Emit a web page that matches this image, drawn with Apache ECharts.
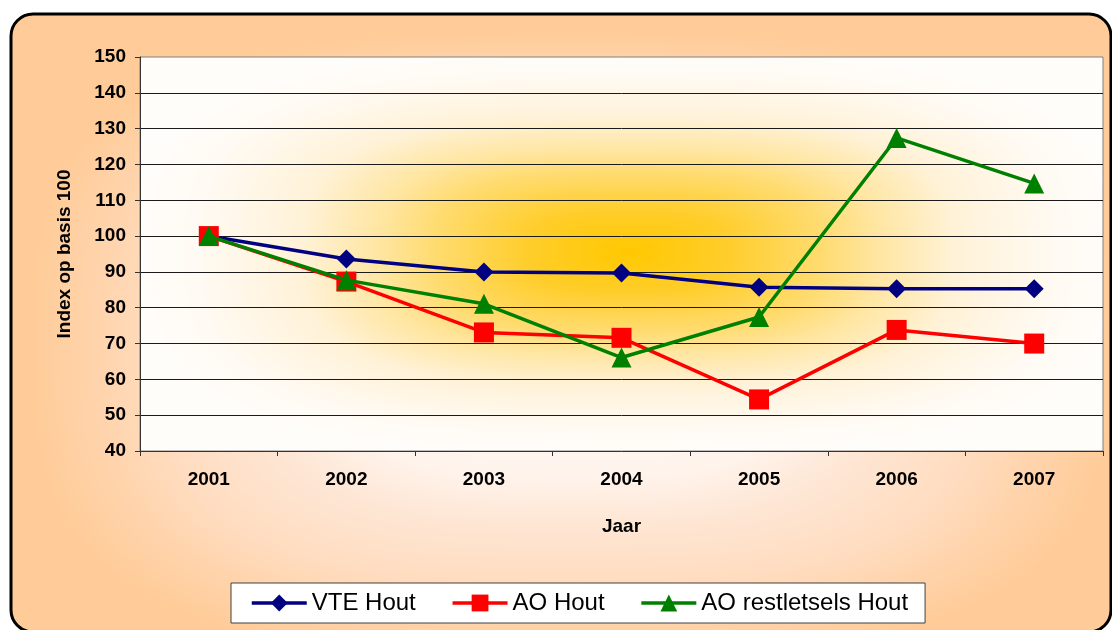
<!DOCTYPE html>
<html>
<head>
<meta charset="utf-8">
<script src="https://cdn.jsdelivr.net/npm/echarts@6/dist/echarts.min.js"></script>
<style>
  html, body { margin: 0; padding: 0; background: #ffffff; }
  #chart { width: 1112px; height: 630px; }
</style>
</head>
<body>
<div id="chart"></div>
<script>
// ---- data ----
const years = ['2001', '2002', '2003', '2004', '2005', '2006', '2007'];
const vteHout = [100, 93.6, 90.0, 89.7, 85.7, 85.3, 85.3];
const aoHout = [100, 87.3, 73.1, 71.6, 54.4, 73.8, 70.0];
const aoRestHout = [100, 87.7, 81.1, 66.1, 77.4, 127.4, 114.7];
const seriesNames = ['VTE Hout', 'AO Hout', 'AO restletsels Hout'];
const yTicks = { min: 40, max: 150, step: 10 };
const yTitle = 'Index op basis 100';
const xTitle = 'Jaar';

// ---- layout ----
const W = 1112, H = 630;
const grid = { left: 140, top: 57, right: 9, bottom: 179 };
const plotW = W - grid.left - grid.right;
const plotH = H - grid.top - grid.bottom;
const FONT = "'Liberation Sans', Arial, Helvetica, sans-serif";

function hexToRgb(h) {
  return [parseInt(h.slice(1, 3), 16), parseInt(h.slice(3, 5), 16), parseInt(h.slice(5, 7), 16)];
}
// "from centre" style gradient: superellipse distance, piecewise colour stops
function centreGradientCanvas(w, h, cx, cy, hx, hy, p, stops) {
  const c = document.createElement('canvas');
  c.width = w; c.height = h;
  const ctx = c.getContext('2d');
  const img = ctx.createImageData(w, h);
  const st = stops.map(s => [s[0], hexToRgb(s[1])]);
  for (let y = 0; y < h; y++) {
    const ny = Math.abs(y + 0.5 - cy) / hy;
    for (let x = 0; x < w; x++) {
      const nx = Math.abs(x + 0.5 - cx) / hx;
      const d = Math.pow(Math.pow(nx, p) + Math.pow(ny, p), 1 / p);
      let col = st[st.length - 1][1];
      for (let k = 1; k < st.length; k++) {
        if (d <= st[k][0]) {
          const t = (d - st[k - 1][0]) / (st[k][0] - st[k - 1][0]);
          const a = st[k - 1][1], b = st[k][1];
          col = [a[0] + (b[0] - a[0]) * t, a[1] + (b[1] - a[1]) * t, a[2] + (b[2] - a[2]) * t];
          break;
        }
      }
      const i = (y * w + x) * 4;
      img.data[i] = col[0]; img.data[i + 1] = col[1]; img.data[i + 2] = col[2]; img.data[i + 3] = 255;
    }
  }
  ctx.putImageData(img, 0, 0);
  return c;
}

const outer = { x: 11, y: 14, w: 1100, h: 618, r: 22 };
const outerCanvas = centreGradientCanvas(outer.w, outer.h, 560, 330, 550, 318, 3, [
  [0, '#FFFFFF'], [0.42, '#FFF3EB'], [0.55, '#FEE7D6'], [0.75, '#FFDCBF'], [0.87, '#FFD3AA'], [0.98, '#FFCC99'], [1, '#FFCC99']
]);
const plotCanvas = centreGradientCanvas(plotW, plotH, 488, 195, 490, 200, 3, [
  [0, '#FFC800'], [0.2, '#FFCD2A'], [0.4, '#FFDC72'], [0.5, '#FFE59E'], [0.67, '#FFF2D8'], [0.88, '#FFFAF3'], [1, '#FFFDFA']
]);

const chart = echarts.init(document.getElementById('chart'), null, { renderer: 'canvas' });

const colors = ['#000080', '#FF0000', '#008000'];
const symbols = [['diamond', [19, 19]], ['rect', [20, 20]], ['triangle', [20, 20]]];
const dataSets = [vteHout, aoHout, aoRestHout];

chart.setOption({
  animation: false,
  textStyle: { fontFamily: FONT },
  graphic: [
    {
      type: 'rect', x: outer.x, y: outer.y, z: -20, silent: true,
      shape: { x: 0, y: 0, width: outer.w, height: outer.h, r: outer.r },
      style: { fill: { image: outerCanvas, repeat: 'no-repeat' } }
    },
    {
      type: 'rect', x: grid.left, y: grid.top, z: -15, silent: true,
      shape: { x: 0, y: 0, width: plotW, height: plotH },
      style: { fill: { image: plotCanvas, repeat: 'no-repeat' } }
    },
    {
      type: 'rect', x: outer.x, y: outer.y, z: 100, silent: true,
      shape: { x: 0, y: 0, width: outer.w, height: outer.h, r: outer.r },
      style: { fill: null, stroke: '#000000', lineWidth: 3 }
    }
  ],
  grid: {
    left: grid.left, top: grid.top, right: grid.right, bottom: grid.bottom,
    show: true, backgroundColor: 'transparent', borderColor: '#808080', borderWidth: 1,
    containLabel: false
  },
  legend: {
    left: 231, top: 583,
    itemWidth: 55, itemHeight: 21, itemGap: 35,
    padding: [8, 17, 8, 19],
    backgroundColor: '#FFFFFF', borderColor: '#404040', borderWidth: 1, borderRadius: 0,
    lineStyle: { width: 3.5 },
    textStyle: { fontFamily: FONT, fontSize: 24, color: '#000000' },
    data: seriesNames
  },
  xAxis: {
    type: 'category', data: years, boundaryGap: true,
    name: xTitle, nameLocation: 'middle', nameGap: 66,
    nameTextStyle: { fontFamily: FONT, fontSize: 19, fontWeight: 'bold', color: '#000' },
    axisLine: { show: true, lineStyle: { color: '#333333', width: 1 } },
    axisTick: { show: true, inside: false, length: 5, interval: 0, lineStyle: { color: '#333333' } },
    axisLabel: { margin: 19, fontFamily: FONT, fontSize: 19, fontWeight: 'bold', color: '#000', interval: 0 },
    splitLine: { show: false }
  },
  yAxis: {
    type: 'value', min: yTicks.min, max: yTicks.max, interval: yTicks.step,
    name: yTitle, nameLocation: 'middle', nameGap: 66, nameRotate: 90,
    nameTextStyle: { fontFamily: FONT, fontSize: 19, fontWeight: 'bold', color: '#000' },
    axisLine: { show: true, lineStyle: { color: '#333333', width: 1 } },
    axisTick: { show: true, inside: false, length: 5, lineStyle: { color: '#333333' } },
    axisLabel: { margin: 14, fontFamily: FONT, fontSize: 19, fontWeight: 'bold', color: '#000' },
    splitLine: { show: true, showMinLine: false, showMaxLine: false, lineStyle: { color: '#1a1a1a', width: 1 } }
  },
  series: seriesNames.map((name, i) => ({
    name: name,
    type: 'line',
    data: dataSets[i],
    symbol: symbols[i][0],
    symbolSize: symbols[i][1],
    showAllSymbol: true,
    lineStyle: { color: colors[i], width: 3.5 },
    itemStyle: { color: colors[i], borderWidth: 0 },
    emphasis: { disabled: true },
    z: 2 + i
  }))
});
</script>
</body>
</html>
